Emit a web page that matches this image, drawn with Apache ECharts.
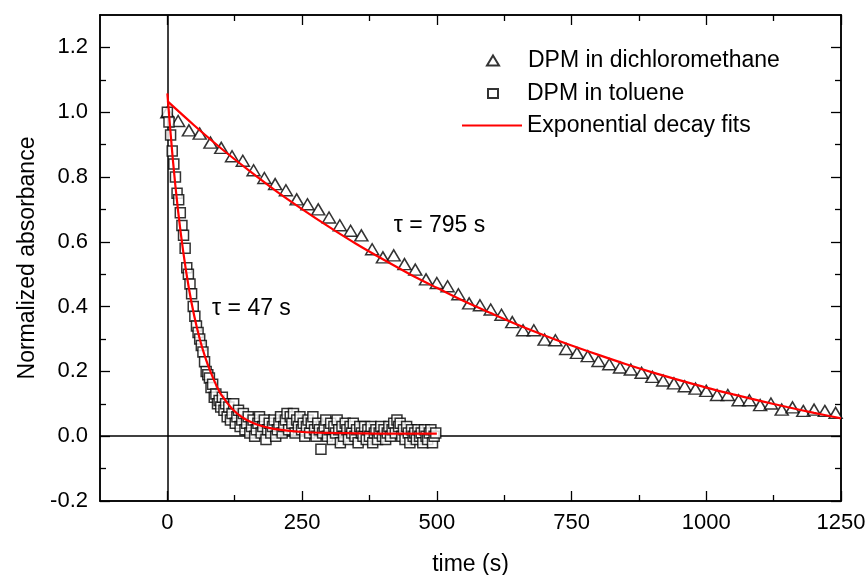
<!DOCTYPE html>
<html>
<head>
<meta charset="utf-8">
<script src="https://cdn.jsdelivr.net/npm/echarts@6/dist/echarts.min.js"></script>
<style>html,body{margin:0;padding:0;background:#fff;}#c{width:868px;height:575px;}</style>
</head>
<body>
<div id="c"></div>
<script>
// ---- Data ----
const dcmTime = [0,20,40,60,80,100,120,140,160,180,200,220,240,260,280,300,320,340,360,380,400,420,440,460,480,500,520,540,560,580,600,620,640,660,680,700,720,740,760,780,800,820,840,860,880,900,920,940,960,980,1000,1020,1040,1060,1080,1100,1120,1140,1160,1180,1200,1220,1240];
const dcmValue = [1.00,0.973,0.944,0.934,0.906,0.890,0.864,0.850,0.821,0.797,0.778,0.759,0.731,0.716,0.700,0.675,0.651,0.634,0.620,0.577,0.552,0.558,0.531,0.514,0.484,0.473,0.463,0.438,0.410,0.404,0.391,0.375,0.352,0.327,0.327,0.298,0.296,0.269,0.257,0.247,0.232,0.222,0.212,0.206,0.196,0.183,0.172,0.163,0.154,0.147,0.140,0.127,0.127,0.111,0.111,0.096,0.101,0.082,0.089,0.078,0.082,0.078,0.072];

const tolTime = [0,3,6,9,12,15,18,21,24,27,30,33,36,39,42,45,48,51,54,57,60,63,66,69,72,75,78,81,84,87,90,93,96,99,102,105,108,111,114,117,120,123,126,129,132,135,138,141,144,147,150,153,156,159,162,165,168,171,174,177,180,183,186,189,192,195,198,201,204,207,210,213,216,219,222,225,228,231,234,237,240,243,246,249,252,255,258,261,264,267,270,273,276,279,282,285,288,291,294,297,300,303,306,309,312,315,318,321,324,327,330,333,336,339,342,345,348,351,354,357,360,363,366,369,372,375,378,381,384,387,390,393,396,399,402,405,408,411,414,417,420,423,426,429,432,435,438,441,444,447,450,453,456,459,462,465,468,471,474,477,480,483,486,489,492,495,498];
const tolValue = [1.00,0.97,0.93,0.88,0.84,0.80,0.75,0.73,0.69,0.65,0.62,0.58,0.52,0.50,0.47,0.44,0.40,0.37,0.34,0.32,0.30,0.28,0.26,0.23,0.20,0.19,0.18,0.15,0.16,0.12,0.13,0.10,0.11,0.09,0.12,0.08,0.10,0.06,0.09,0.05,0.07,0.10,0.04,0.06,0.08,0.03,0.05,0.07,0.02,0.04,0.06,0.01,0.03,0.05,0.00,0.02,0.04,0.06,0.01,0.03,0.05,-0.01,0.02,0.04,0.01,0.03,0.05,0.00,0.02,0.04,0.06,0.01,0.03,0.05,0.07,0.02,0.06,0.04,0.07,0.01,0.05,0.03,0.06,0.02,0.04,0.00,0.03,0.05,0.01,0.04,0.06,0.02,0.00,0.04,0.02,-0.04,0.01,0.03,0.05,0.00,0.02,0.04,-0.01,0.03,0.01,0.05,0.02,-0.02,0.03,0.00,0.04,0.02,-0.01,0.03,0.01,0.04,0.00,0.02,-0.02,0.03,0.01,0.00,0.03,-0.01,0.02,0.00,0.03,-0.02,0.01,0.02,-0.01,0.01,0.03,0.00,0.02,-0.01,0.01,0.03,0.00,0.02,0.04,0.01,0.05,0.03,0.04,0.00,0.02,-0.01,0.03,0.01,-0.02,0.02,0.00,0.01,-0.01,0.02,0.00,0.01,-0.02,0.02,0.00,-0.01,0.01,0.02,-0.02,0.00,0.01];

const dcmFitTime = [0,50,100,150,200,250,300,350,400,450,500,550,600,650,700,750,800,850,900,950,1000,1050,1100,1150,1200,1250];
const dcmFitValue = [1.034,0.959,0.888,0.822,0.759,0.701,0.646,0.594,0.546,0.500,0.458,0.417,0.380,0.344,0.311,0.280,0.251,0.223,0.197,0.173,0.150,0.129,0.109,0.090,0.072,0.055];

const tolFitTime = [0,10,20,30,40,50,60,70,80,90,100,120,140,160,180,200,250,300,350,400,450,500];
const tolFitValue = [1.058,0.857,0.694,0.563,0.456,0.370,0.301,0.245,0.199,0.160,0.128,0.085,0.057,0.040,0.029,0.022,0.013,0.010,0.009,0.008,0.008,0.008];

const xMajorTicks = [0,250,500,750,1000,1250];
const xMinorTicks = [125,375,625,875,1125];
const yMajorTicks = [-0.2,0,0.2,0.4,0.6,0.8,1.0,1.2];
const yMinorTicks = [-0.1,0.1,0.3,0.5,0.7,0.9,1.1];

const seriesNames = ['DPM in dichloromethane','DPM in toluene','Exponential decay fits'];
const tauLabels = [{text:'τ = 795 s', at:[420,0.651]}, {text:'τ = 47 s', at:[83,0.395]}];

// ---- Chart ----
const FONT = '"Liberation Sans", Arial, Helvetica, sans-serif';
const zip = (a,b) => a.map((v,i)=>[v,b[i]]);
const chart = echarts.init(document.getElementById('c'), null, {renderer:'canvas'});

function xAxisDef(position, ticks, len, labels, name){
  return {
    type:'value', position, min:-125, max:1250,
    axisLine:{show:true, onZero:false, lineStyle:{color:'#000', width:1.5}},
    axisTick:{show:true, inside:true, length:len, customValues:ticks, lineStyle:{color:'#000', width:1.3}},
    axisLabel:{show:labels, customValues:ticks, fontSize:22, color:'#000', fontFamily:FONT, margin:11,
      formatter:(v)=>String(v)},
    splitLine:{show:false},
    name: name || '', nameLocation:'middle', nameGap:52,
    nameTextStyle:{fontSize:23, color:'#000', fontFamily:FONT}
  };
}
function yAxisDef(position, ticks, len, labels, name){
  return {
    type:'value', position, min:-0.2, max:1.3,
    axisLine:{show:true, onZero:false, lineStyle:{color:'#000', width:1.5}},
    axisTick:{show:true, inside:true, length:len, customValues:ticks, lineStyle:{color:'#000', width:1.3}},
    axisLabel:{show:labels, customValues:ticks, fontSize:22, color:'#000', fontFamily:FONT, margin:12,
      formatter:(v)=>v.toFixed(1)},
    splitLine:{show:false},
    name: name || '', nameLocation:'middle', nameGap:56,
    nameTextStyle:{fontSize:23, color:'#000', fontFamily:FONT}
  };
}

const markerStyle = {color:'#fff', borderColor:'#000', borderWidth:1.5};
const legendText = {fontSize:23, color:'#000', fontFamily:FONT, padding:[0,0,0,24]};

const option = {
  animation:false,
  backgroundColor:'#fff',
  grid:{left:100, right:27, top:15, bottom:74, outerBoundsMode:'none', containLabel:false},
  xAxis:[
    xAxisDef('bottom', xMajorTicks, 10, true, 'time (s)'),
    xAxisDef('bottom', xMinorTicks, 6, false),
    xAxisDef('top', xMajorTicks, 10, false),
    xAxisDef('top', xMinorTicks, 6, false)
  ],
  yAxis:[
    yAxisDef('left', yMajorTicks, 10, true, 'Normalized absorbance'),
    yAxisDef('left', yMinorTicks, 6, false),
    yAxisDef('right', yMajorTicks, 10, false),
    yAxisDef('right', yMinorTicks, 6, false)
  ],
  legend:[
    {data:[{name:seriesNames[0], icon:'triangle'}], left:486, top:49, padding:0, itemWidth:12, itemHeight:10, selectedMode:false,
     textStyle:legendText},
    {data:[{name:seriesNames[1], icon:'rect'}], left:487, top:82, padding:0, itemWidth:10, itemHeight:9, selectedMode:false,
     textStyle:Object.assign({}, legendText, {padding:[0,0,0,24]})},
    {data:[{name:seriesNames[2], icon:'rect', itemStyle:{color:'#ff0000', borderWidth:0}}], left:462, top:114, padding:0, itemWidth:60, itemHeight:2, selectedMode:false,
     textStyle:Object.assign({}, legendText, {padding:[0,0,0,0]})}
  ],
  series:[
    {
      type:'line', data:[], xAxisIndex:0, yAxisIndex:0, z:1, silent:true,
      markLine:{
        silent:true, z:1, symbol:['none','none'], animation:false,
        label:{show:false},
        lineStyle:{color:'#000', width:1.5, type:'solid'},
        emphasis:{disabled:true},
        data:[{xAxis:0},{yAxis:0}]
      }
    },
    {
      name:seriesNames[0], type:'scatter', xAxisIndex:0, yAxisIndex:0, z:2,
      symbol:'triangle', symbolSize:[13,11], itemStyle:markerStyle,
      data:zip(dcmTime, dcmValue)
    },
    {
      name:seriesNames[1], type:'scatter', xAxisIndex:0, yAxisIndex:0, z:3,
      symbol:'rect', symbolSize:10, itemStyle:markerStyle,
      data:zip(tolTime, tolValue),
      markPoint:{
        symbol:'circle', symbolSize:0, z:6,
        label:{show:true, position:'inside', align:'left', verticalAlign:'middle', fontSize:23, color:'#000', fontFamily:FONT,
          formatter:(p)=>p.name},
        data: tauLabels.map(t=>({name:t.text, coord:t.at}))
      }
    },
    {
      name:seriesNames[2], type:'line', xAxisIndex:0, yAxisIndex:0, z:4,
      showSymbol:false, symbol:'none', smooth:0.3,
      lineStyle:{color:'#ff0000', width:2.2}, itemStyle:{color:'#ff0000'},
      data:zip(dcmFitTime, dcmFitValue)
    },
    {
      name:seriesNames[2], type:'line', xAxisIndex:0, yAxisIndex:0, z:4,
      showSymbol:false, symbol:'none', smooth:0.3,
      lineStyle:{color:'#ff0000', width:2.2}, itemStyle:{color:'#ff0000'},
      data:zip(tolFitTime, tolFitValue)
    }
  ]
};
chart.setOption(option);
</script>
</body>
</html>
